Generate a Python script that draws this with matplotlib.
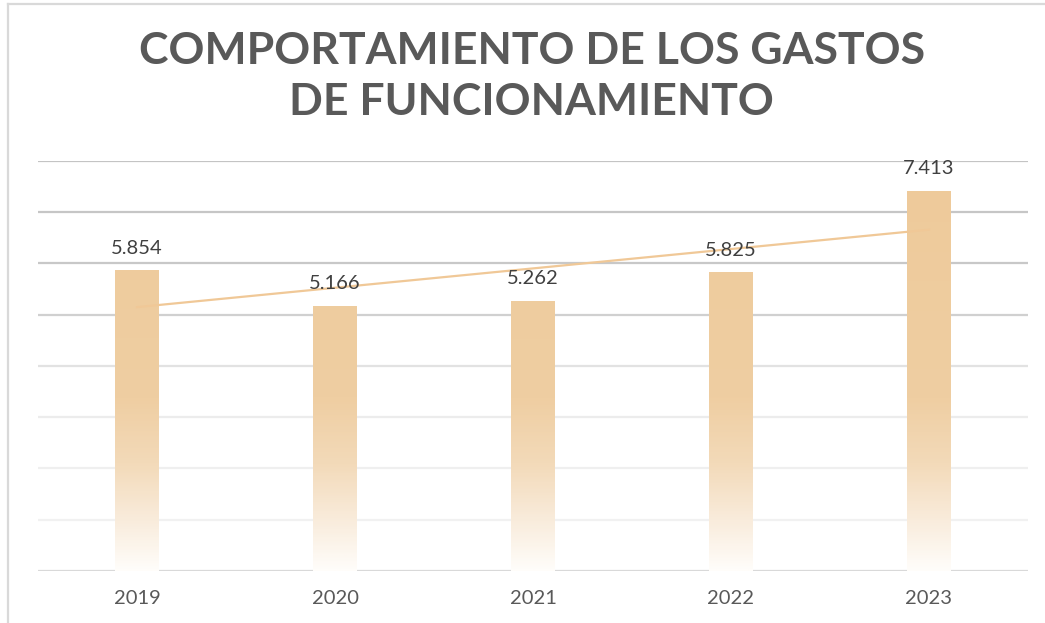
import matplotlib.pyplot as plt
import numpy as np
from matplotlib.colors import LinearSegmentedColormap

years = ["2019", "2020", "2021", "2022", "2023"]
gastos = [5.854, 5.166, 5.262, 5.825, 7.413]
labels = ["5.854", "5.166", "5.262", "5.825", "7.413"]

plt.rcParams['font.family'] = ['Lato', 'DejaVu Sans']

fig = plt.figure(figsize=(10.45, 6.23), dpi=100)
ax = fig.add_axes([0.0364, 0.0835, 0.9473, 0.6581])

x = np.arange(len(years))
bar_w = 0.22

# gridlines fade out toward the bottom
grid_cols = ["#d9d9d9", "#f1f1f1", "#efefef", "#ececec", "#e2e2e2",
             "#d0d0d0", "#c8c8c8", "#c6c6c6", "#c4c4c4"]
for v, c in zip(range(0, 9), grid_cols):
    ax.axhline(v, color=c, lw=1.6, zorder=0)

# gradient bars (tan on top, white at the base)
cmap = LinearSegmentedColormap.from_list(
    "fade", [(0.0, "#fffdfa"), (0.12, "#f9ecdc"), (0.26, "#f3dab9"),
             (0.42, "#efcea2"), (1.0, "#eeca9a")])
bars = ax.bar(x, gastos, width=bar_w, facecolor="none", edgecolor="none", zorder=2)
for b, h in zip(bars, gastos):
    ys = np.linspace(0, h, 200)
    img = (ys / 8.0).reshape(-1, 1)
    ax.imshow(img, cmap=cmap, vmin=0, vmax=1, origin="lower", aspect="auto",
              extent=[b.get_x(), b.get_x() + b.get_width(), 0, h], zorder=2,
              interpolation="bilinear")

# linear trend
coef = np.polyfit(x, gastos, 1)
ax.plot(x, np.polyval(coef, x), color="#f0c897", lw=1.6, zorder=3)

for xi, h, lab in zip(x, gastos, labels):
    ax.annotate(lab, (xi, h), xytext=(0, 10), textcoords="offset points",
                ha="center", va="bottom", fontsize=14.5, color="#404040", zorder=4)

ax.set_xlim(-0.5, 4.5)
ax.set_ylim(0, 8)
ax.set_xticks(x)
ax.set_xticklabels(years, fontsize=14.5, color="#595959")
ax.set_yticks([])
ax.tick_params(axis="x", length=0, pad=14)
for s in ax.spines.values():
    s.set_visible(False)

fig.text(0.509, 0.918, "COMPORTAMIENTO DE LOS GASTOS", ha="center", va="center",
         fontsize=32, fontweight="bold", color="#595959")
fig.text(0.509, 0.836, "DE FUNCIONAMIENTO", ha="center", va="center",
         fontsize=32, fontweight="bold", color="#595959")

# chart frame border (top and left visible)
fig.add_artist(plt.Line2D([0.0077, 0.0077], [0.0, 0.994], color="#d9d9d9", lw=1.6))
fig.add_artist(plt.Line2D([0.0077, 1.0], [0.994, 0.994], color="#d9d9d9", lw=1.6))

fig.savefig("out.png", dpi=100)
